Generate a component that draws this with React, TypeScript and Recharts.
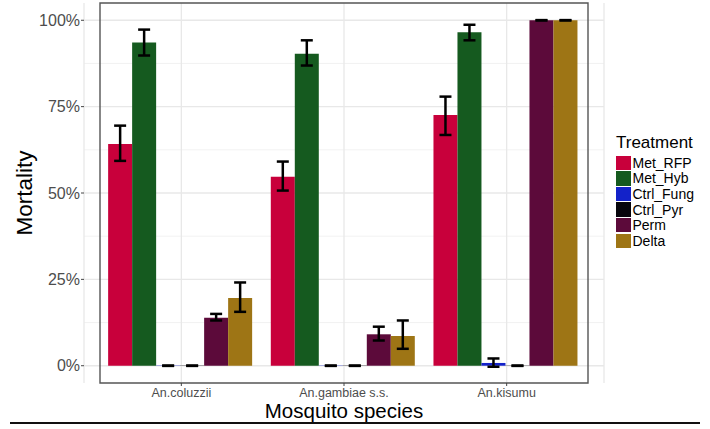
import React from 'react';
import {
  BarChart, Bar, XAxis, YAxis, CartesianGrid, ErrorBar, ReferenceArea,
} from 'recharts';

const species = ['An.coluzzii', 'An.gambiae s.s.', 'An.kisumu'];
const treatments = ['Met_RFP', 'Met_Hyb', 'Ctrl_Fung', 'Ctrl_Pyr', 'Perm', 'Delta'];
const treatmentColors = ['#c8003b', '#155a1f', '#1322c9', '#07060d', '#5c0a3a', '#9e7515'];

// mean mortality per species, one array per treatment
const metRfp = [0.642, 0.547, 0.726];
const metHyb = [0.936, 0.903, 0.965];
const ctrlFung = [0, 0, 0.008];
const ctrlPyr = [0, 0, 0];
const perm = [0.139, 0.091, 1.0];
const delta = [0.196, 0.086, 1.0];

// error bar bounds (zero-mortality controls collapse to a flat cap at 0)
const metRfpLo = [0.593, 0.507, 0.668];
const metRfpHi = [0.695, 0.591, 0.779];
const metHybLo = [0.898, 0.869, 0.942];
const metHybHi = [0.973, 0.942, 0.987];
const ctrlFungLo = [-0.0005, -0.0005, -0.003];
const ctrlFungHi = [0.0005, 0.0005, 0.021];
const ctrlPyrLo = [-0.0005, -0.0005, -0.0005];
const ctrlPyrHi = [0.0005, 0.0005, 0.0005];
const permLo = [0.131, 0.073, 0.9995];
const permHi = [0.15, 0.113, 1.0005];
const deltaLo = [0.156, 0.049, 0.9995];
const deltaHi = [0.241, 0.131, 1.0005];

const majorTicks = [0, 0.25, 0.5, 0.75, 1];
const minorTicks = [0.125, 0.375, 0.625, 0.875];

const means = [metRfp, metHyb, ctrlFung, ctrlPyr, perm, delta];
const lows = [metRfpLo, metHybLo, ctrlFungLo, ctrlPyrLo, permLo, deltaLo];
const highs = [metRfpHi, metHybHi, ctrlFungHi, ctrlPyrHi, permHi, deltaHi];

const data = species.map((sp, i) => {
  const row: Record<string, any> = { species: sp };
  treatments.forEach((t, j) => {
    const v = means[j][i];
    row[t] = v;
    row[t + '_err'] = [v - lows[j][i], highs[j][i] - v];
  });
  return row;
});

const FONT = "'Liberation Sans', Arial, Helvetica, sans-serif";

export default function App() {
  return (
    <div style={{ position: 'absolute', left: 0, top: 0, width: 710, height: 429, background: '#fff', fontFamily: FONT }}>
      <BarChart
        width={710}
        height={429}
        data={data}
        margin={{ top: 3, right: 106, left: 0, bottom: 0 }}
        barCategoryGap="5%"
        barGap={0}
      >
        <CartesianGrid horizontalValues={minorTicks} vertical={false} stroke="#ececec" strokeWidth={0.7} />
        <CartesianGrid horizontalValues={majorTicks} stroke="#e8e8e8" strokeWidth={1.3} />
        <XAxis
          dataKey="species"
          type="category"
          height={46}
          padding={{ left: 16, right: 16 }}
          axisLine={false}
          tickSize={3}
          tickMargin={2}
          tickLine={{ stroke: '#444' }}
          tick={{ fill: '#4d4d4d', fontSize: 12.5, fontFamily: FONT }}
          label={{ value: 'Mosquito species', position: 'insideBottom', offset: 11, fill: '#000', fontSize: 20.5, fontFamily: FONT }}
        />
        <YAxis
          type="number"
          width={84}
          domain={[-0.05, 1.05]}
          allowDataOverflow
          ticks={majorTicks}
          tickFormatter={(v: number) => `${Math.round(v * 100)}%`}
          axisLine={false}
          tickSize={3}
          tickMargin={1}
          tickLine={{ stroke: '#444' }}
          tick={{ fill: '#4d4d4d', fontSize: 16, fontFamily: FONT }}
          label={{ value: 'Mortality', position: 'center', angle: -90, dx: -18, fill: '#000', fontSize: 22.5, fontFamily: FONT }}
        />
        {treatments.map((t, j) => (
          <Bar key={t} dataKey={t} fill={treatmentColors[j]} minPointSize={0.3} isAnimationActive={false}>
            <ErrorBar dataKey={t + '_err'} direction="y" width={6} stroke="#000" strokeWidth={2.5} isAnimationActive={false} />
          </Bar>
        ))}
        <ReferenceArea y1={-0.05} y2={1.05} fill="none" stroke="#555" strokeWidth={1.4} ifOverflow="visible" />
      </BarChart>

      <div style={{ position: 'absolute', left: 616, top: 134, color: '#000' }}>
        <div style={{ fontSize: 17, lineHeight: '18px', marginBottom: 3 }}>Treatment</div>
        {treatments.map((t, j) => (
          <div key={t} style={{ display: 'flex', alignItems: 'center', height: 15.6 }}>
            <div style={{ width: 15, height: 14.5, background: treatmentColors[j] }} />
            <span style={{ fontSize: 14, marginLeft: 1.5, lineHeight: '14px' }}>{t}</span>
          </div>
        ))}
      </div>

      <div style={{ position: 'absolute', left: 10, top: 421.5, width: 690, height: 2, background: '#111' }} />
    </div>
  );
}
